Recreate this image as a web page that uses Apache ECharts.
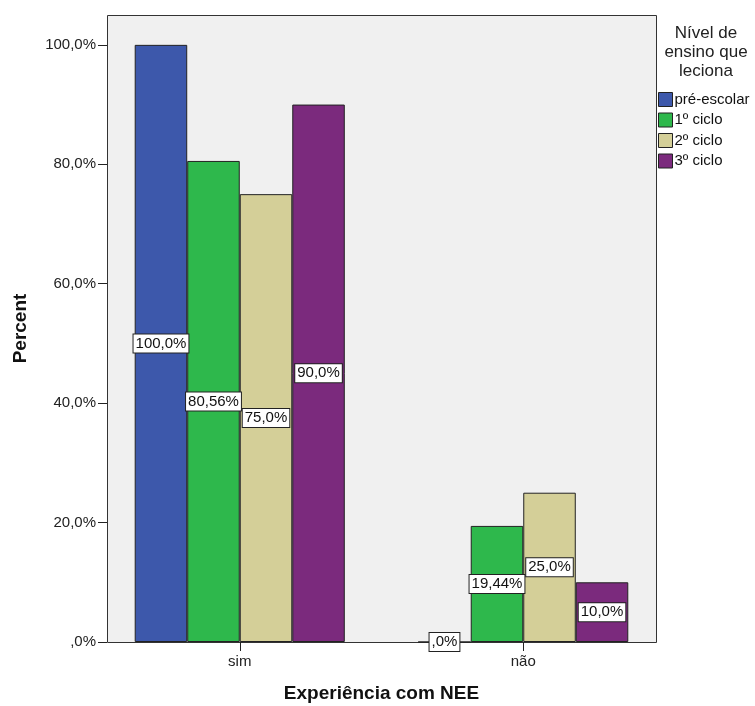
<!DOCTYPE html>
<html><head><meta charset="utf-8">
<script src="https://cdn.jsdelivr.net/npm/echarts@6/dist/echarts.min.js"></script>
<style>html,body{margin:0;padding:0;background:#fff}#c{width:755px;height:706px}</style>
</head><body><div id="c"></div>
<script>
const categories = ['sim', 'não'];
const seriesNames = ['pré-escolar', '1º ciclo', '2º ciclo', '3º ciclo'];
const preEscolar = [100.0, 0.0];
const ciclo1 = [80.56, 19.44];
const ciclo2 = [75.0, 25.0];
const ciclo3 = [90.0, 10.0];
const yTicks = [0, 20, 40, 60, 80, 100];
const colors = ['#3d58ab', '#2eb84c', '#d4cf98', '#7b2a7d'];

function fmtPct(v, dec) {
  let s = v.toFixed(dec).replace('.', ',');
  if (s.startsWith('0,')) s = s.slice(1);
  return s + '%';
}
function barLabel(v) {
  const dec = Math.abs(Math.round(v * 10) - v * 10) < 1e-6 ? 1 : 2;
  return fmtPct(v, dec);
}

const chart = echarts.init(document.getElementById('c'), null, {renderer: 'canvas'});
const font = 'Arial, "Liberation Sans", sans-serif';
const allData = [preEscolar, ciclo1, ciclo2, ciclo3];
const series = seriesNames.map((n, i) => ({
  name: n, type: 'bar', data: allData[i], barGap: '0%', barCategoryGap: '25.9%',
  itemStyle: {color: colors[i], borderColor: '#222', borderWidth: 1},
  label: {
    show: true, position: 'inside', formatter: p => barLabel(p.value),
    color: '#111', fontFamily: font, fontSize: 15, lineHeight: 17,
    backgroundColor: '#fff', borderColor: '#222', borderWidth: 1, padding: [1, 2, 0, 2]
  },
  labelLayout: {hideOverlap: false},
  z: 3
}));

chart.setOption({
  animation: false,
  grid: {left: 98, right: 90, top: 15, bottom: 64, outerBoundsMode: 'none', containLabel: false},
  graphic: [{
    type: 'rect', z: -10, silent: true,
    shape: {x: 107.5, y: 15.5, width: 549, height: 627},
    style: {fill: '#f0f0f0', stroke: '#333', lineWidth: 1}
  }],
  title: {
    text: 'Nível de\nensino que\nleciona', left: 706, top: 24, textAlign: 'center', padding: 0,
    textStyle: {fontFamily: font, fontSize: 17, fontWeight: 'normal', color: '#222', lineHeight: 19}
  },
  legend: {
    orient: 'vertical', left: 658, top: 92, padding: 0, itemWidth: 14, itemHeight: 14, itemGap: 5.5,
    icon: 'rect', data: seriesNames,
    itemStyle: {borderColor: '#222', borderWidth: 1},
    textStyle: {fontFamily: font, fontSize: 15, color: '#111', lineHeight: 14, padding: [0, 0, 0, -3]}
  },
  xAxis: {
    type: 'category', data: categories,
    name: 'Experiência com NEE', nameLocation: 'middle', nameGap: 42,
    nameTextStyle: {fontFamily: font, fontSize: 19, fontWeight: 'bold', color: '#111'},
    axisLine: {show: false},
    axisTick: {show: true, alignWithLabel: true, length: 9, lineStyle: {color: '#222'}},
    axisLabel: {fontFamily: font, fontSize: 15, color: '#222', margin: 12}
  },
  yAxis: {
    type: 'value', min: 0, max: 105, interval: 20, offset: -9,
    name: 'Percent', nameLocation: 'middle', nameGap: 77, nameRotate: 90,
    nameTextStyle: {fontFamily: font, fontSize: 19, fontWeight: 'bold', color: '#111'},
    axisLine: {show: false},
    splitLine: {show: false},
    axisTick: {show: true, length: 9, lineStyle: {color: '#222'}, customValues: yTicks},
    axisLabel: {fontFamily: font, fontSize: 15, color: '#222', margin: 11, customValues: yTicks,
      formatter: v => fmtPct(v, 1)}
  },
  series: series
});
</script></body></html>
